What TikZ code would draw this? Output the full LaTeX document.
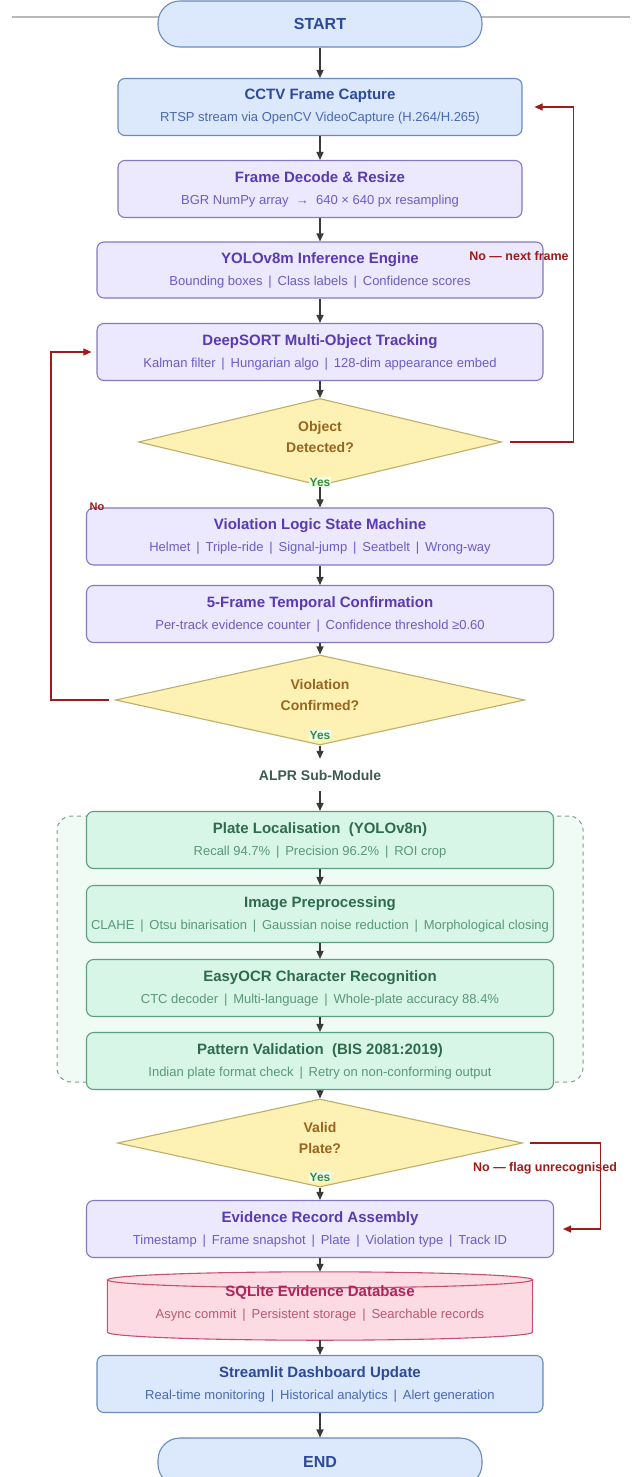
\documentclass[tikz,border=0pt]{standalone}
\usepackage{fontspec}
\setmainfont{Liberation Sans}
\usetikzlibrary{shapes.geometric,arrows.meta}
\definecolor{bluefill}{HTML}{DCE8FB}
\definecolor{bluedraw}{HTML}{6A8AC0}
\definecolor{bluetitle}{HTML}{2B4A9A}
\definecolor{bluesub}{HTML}{4A68B0}
\definecolor{lavfill}{HTML}{ECE8FD}
\definecolor{lavdraw}{HTML}{8579C4}
\definecolor{lavtitle}{HTML}{5A3AB0}
\definecolor{lavsub}{HTML}{6A5EC4}
\definecolor{grnfill}{HTML}{D7F6E7}
\definecolor{grndraw}{HTML}{5F9F80}
\definecolor{grntitle}{HTML}{2E6B4D}
\definecolor{grnsub}{HTML}{5A9878}
\definecolor{clufill}{HTML}{F1FBF5}
\definecolor{cludraw}{HTML}{8A9A90}
\definecolor{yelfill}{HTML}{FDF2B3}
\definecolor{yeldraw}{HTML}{BFAE6A}
\definecolor{yeltext}{HTML}{9A6420}
\definecolor{pinkfill}{HTML}{FCDBE4}
\definecolor{pinkdraw}{HTML}{C8506E}
\definecolor{pinktitle}{HTML}{B0245A}
\definecolor{pinksub}{HTML}{B85A72}
\definecolor{loopred}{HTML}{9E1B1B}
\definecolor{arrgray}{HTML}{3A3A3A}
\definecolor{yesgreen}{HTML}{3A8A3A}
\definecolor{alprtext}{HTML}{3D5C50}
\newcommand{\ttl}[2]{{\fontsize{15}{22}\selectfont\bfseries\color{#1}#2}}
\newcommand{\sbt}[2]{{\fontsize{13}{22}\selectfont\color{#1}#2}}
\newcommand{\sepbar}{\hspace{0.45em}|\hspace{0.45em}}
\newcommand{\dectxt}[2]{\raisebox{4pt}[\height][\depth]{\begin{tabular}{@{}c@{}}#1\\#2\end{tabular}}}
\tikzset{
  box/.style={rounded corners=7pt, line width=1.1pt, minimum height=57pt, align=center, inner sep=0pt, font=\fontsize{13}{22}\selectfont},
  bluebox/.style={box, fill=bluefill, draw=bluedraw},
  lavbox/.style={box, fill=lavfill, draw=lavdraw},
  grnbox/.style={box, fill=grnfill, draw=grndraw},
  term/.style={rounded corners=22pt, line width=1.1pt, fill=bluefill, draw=bluedraw, minimum width=324pt, minimum height=46pt, inner sep=0pt, font=\fontsize{16}{20}\selectfont\bfseries, text=bluetitle},
  dec/.style={diamond, aspect=4, line width=1.1pt, fill=yelfill, draw=yeldraw, inner sep=0pt, font=\fontsize{14}{21}\selectfont\bfseries, text=yeltext},
  arr/.style={draw=arrgray, line width=1.3pt, -{Triangle[length=8pt,width=7pt]}},
  redarr/.style={draw=loopred, line width=1.1pt, -{Triangle[length=8pt,width=7pt]}},
  redlbl/.style={text=loopred, font=\fontsize{12.5}{15}\selectfont\bfseries, inner sep=0pt},
  yeslbl/.style={text=yesgreen, font=\fontsize{12}{14}\selectfont\bfseries, inner sep=1pt, fill=green!7},
  cluster/.style={rounded corners=14pt, dashed, dash pattern=on 4pt off 4pt, line width=1pt, draw=cludraw, fill=clufill},
}
\begin{document}
\begin{tikzpicture}[x=1pt,y=-1pt]
\useasboundingbox (0,0) rectangle (638,1477);
\fill[white] (0,0) rectangle (638,1477);
\draw[gray!55, line width=1.5pt] (12,17) -- (630,17);

\node[cluster, minimum width=526pt, minimum height=266pt] (clu) at (320,949) {};

\node[term] (start) at (320,24) {START};
\node[bluebox, minimum width=404pt] (cctv) at (320,107)
  {\ttl{bluetitle}{CCTV Frame Capture}\\\sbt{bluesub}{RTSP stream via OpenCV VideoCapture (H.264/H.265)}};
\node[lavbox, minimum width=404pt] (fd) at (320,189)
  {\ttl{lavtitle}{Frame Decode \& Resize}\\\sbt{lavsub}{BGR NumPy array \ \textbf{→} \ 640 × 640 px resampling}};
\node[lavbox, minimum width=446pt, minimum height=56pt] (yolo) at (320,270)
  {\ttl{lavtitle}{YOLOv8m Inference Engine}\\\sbt{lavsub}{Bounding boxes\sepbar Class labels\sepbar Confidence scores}};
\node[lavbox, minimum width=446pt] (ds) at (320,352)
  {\ttl{lavtitle}{DeepSORT Multi-Object Tracking}\\\sbt{lavsub}{Kalman filter\sepbar Hungarian algo\sepbar 128-dim appearance embed}};
\node[dec, minimum width=363pt, minimum height=87pt] (d1) at (320,442) {\dectxt{Object}{Detected?}};
\node[lavbox, minimum width=467pt] (vl) at (320,536.5)
  {\ttl{lavtitle}{Violation Logic State Machine}\\\sbt{lavsub}{Helmet\sepbar Triple-ride\sepbar Signal-jump\sepbar Seatbelt\sepbar Wrong-way}};
\node[lavbox, minimum width=467pt] (tf) at (320,614)
  {\ttl{lavtitle}{5-Frame Temporal Confirmation}\\\sbt{lavsub}{Per-track evidence counter\sepbar Confidence threshold ≥0.60}};
\node[dec, minimum width=409pt, minimum height=90pt] (d2) at (320,700) {\dectxt{Violation}{Confirmed?}};
\node[text=alprtext, font=\fontsize{14}{17}\selectfont\bfseries, minimum height=32pt, inner sep=0pt] (alpr) at (320,775) {ALPR Sub-Module};
\node[grnbox, minimum width=467pt] (pl) at (320,840)
  {\ttl{grntitle}{Plate Localisation \ (YOLOv8n)}\\\sbt{grnsub}{Recall 94.7\%\sepbar Precision 96.2\%\sepbar ROI crop}};
\node[grnbox, minimum width=467pt] (ip) at (320,914)
  {\ttl{grntitle}{Image Preprocessing}\\\sbt{grnsub}{CLAHE\sepbar Otsu binarisation\sepbar Gaussian noise reduction\sepbar Morphological closing}};
\node[grnbox, minimum width=467pt] (eo) at (320,988)
  {\ttl{grntitle}{EasyOCR Character Recognition}\\\sbt{grnsub}{CTC decoder\sepbar Multi-language\sepbar Whole-plate accuracy 88.4\%}};
\node[grnbox, minimum width=467pt] (pv) at (320,1061)
  {\ttl{grntitle}{Pattern Validation \ (BIS 2081:2019)}\\\sbt{grnsub}{Indian plate format check\sepbar Retry on non-conforming output}};
\node[dec, minimum width=405pt, minimum height=88pt] (d3) at (320,1143) {\dectxt{Valid}{Plate?}};
\node[lavbox, minimum width=467pt] (ev) at (320,1229)
  {\ttl{lavtitle}{Evidence Record Assembly}\\\sbt{lavsub}{Timestamp\sepbar Frame snapshot\sepbar Plate\sepbar Violation type\sepbar Track ID}};
% cylinder
\node[minimum width=425pt, minimum height=68pt, inner sep=0pt] (db) at (320,1306) {};
\draw[pinkdraw, fill=pinkfill, line width=1.1pt]
  ([yshift=-8pt]db.north west) -- ([yshift=8pt]db.south west)
  arc[start angle=180, end angle=360, x radius=212.5pt, y radius=8pt]
  -- ([yshift=-8pt]db.north east)
  arc[start angle=0, end angle=180, x radius=212.5pt, y radius=8pt] -- cycle;
\draw[pinkdraw, line width=1.1pt] ([yshift=-8pt]db.north west)
  arc[start angle=180, end angle=360, x radius=212.5pt, y radius=8pt];
\node[align=center, inner sep=0pt, font=\fontsize{13}{22}\selectfont] (dbtxt) at (320,1303)
  {\ttl{pinktitle}{SQLite Evidence Database}\\\sbt{pinksub}{Async commit\sepbar Persistent storage\sepbar Searchable records}};
\node[bluebox, minimum width=446pt] (st) at (320,1384)
  {\ttl{bluetitle}{Streamlit Dashboard Update}\\\sbt{bluesub}{Real-time monitoring\sepbar Historical analytics\sepbar Alert generation}};
\node[term, minimum height=48pt] (end) at (320,1462) {END};

% main arrows
\draw[arr] (start) -- (cctv);
\draw[arr] (cctv) -- (fd);
\draw[arr] (fd) -- (yolo);
\draw[arr] (yolo) -- (ds);
\draw[arr] (ds) -- (d1);
\draw[arr] (d1) -- (vl);
\draw[arr] (vl) -- (tf);
\draw[arr] (tf) -- (d2);
\draw[arr] (d2) -- (alpr);
\draw[arr] (alpr) -- (pl);
\draw[arr] (pl) -- (ip);
\draw[arr] (ip) -- (eo);
\draw[arr] (eo) -- (pv);
\draw[arr] (pv) -- (d3);
\draw[arr] (d3) -- (ev);
\draw[arr] (ev) -- (db);
\draw[arr] (db) -- (st);
\draw[arr] (st) -- (end);

% loops
\draw[redarr, shorten <=8pt, shorten >=12pt] (d1.east) -- ++(71,0) |- (cctv.east);
\draw[redarr, shorten <=6pt, shorten >=5pt] (d2.west) -- ++(-64,0) |- (ds.west);
\draw[redarr, shorten <=7pt, shorten >=9pt] (d3.east) -- ++(77,0) |- (ev.east);

% labels
\node[redlbl] (lno1) at (519,256) {No — next frame};
\node[redlbl, font=\fontsize{11}{13}\selectfont\bfseries] (lno2) at (97,507) {No};
\node[redlbl] (lno3) at (545,1168) {No — flag unrecognised};
\node[yeslbl] (y1) at (320,482) {Yes};
\node[yeslbl] (y2) at (320,735) {Yes};
\node[yeslbl] (y3) at (320,1177) {Yes};
\end{tikzpicture}
\end{document}
